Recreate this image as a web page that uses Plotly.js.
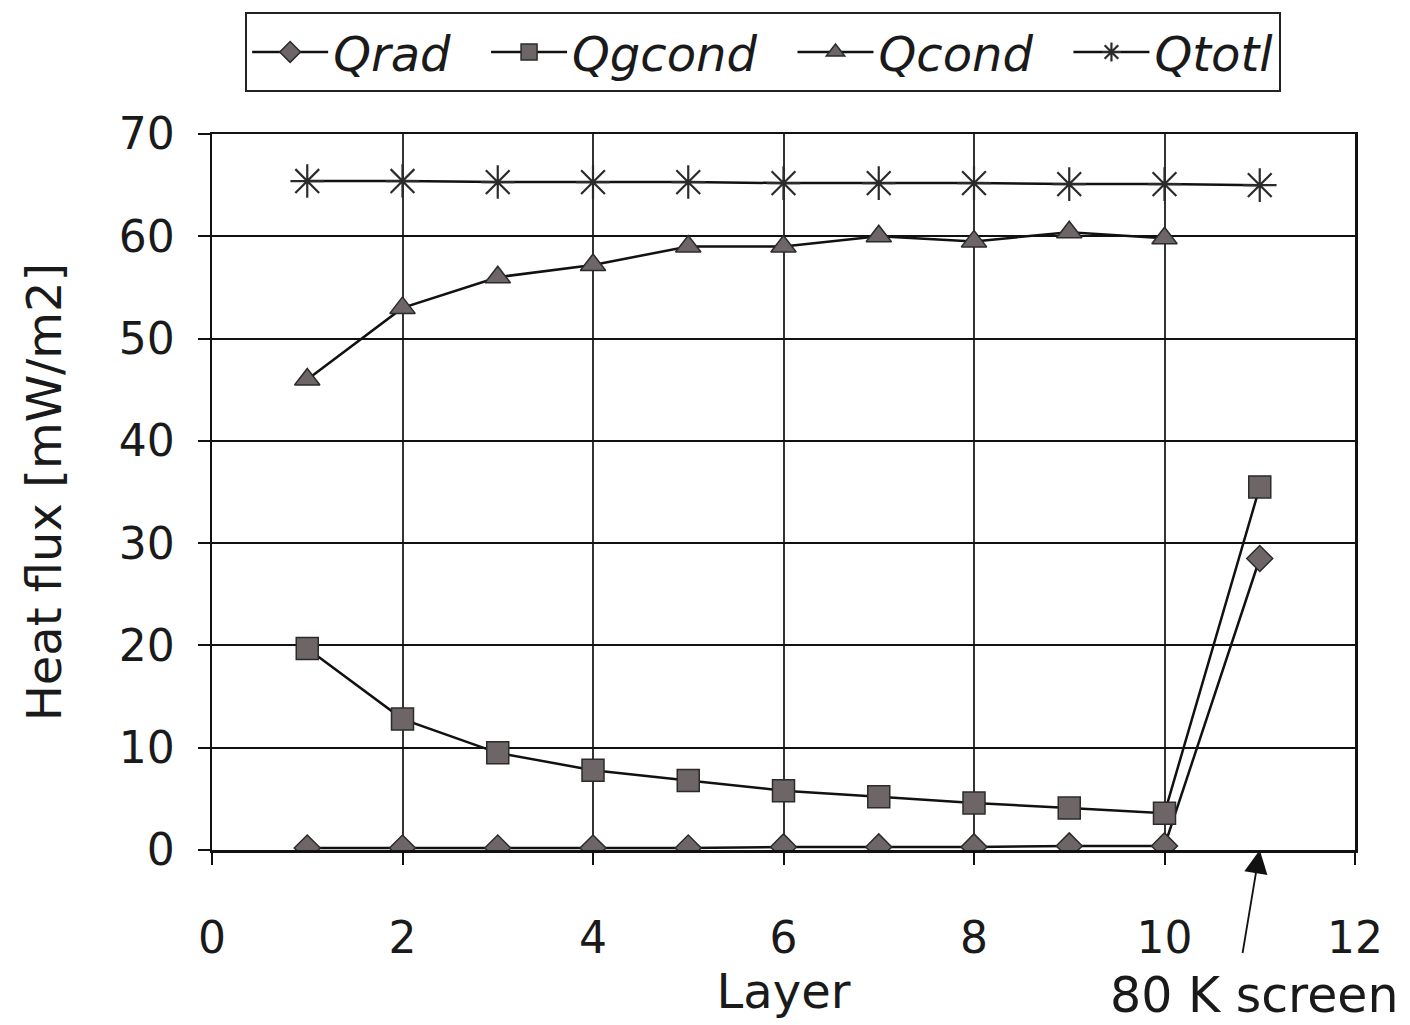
<!DOCTYPE html>
<html>
<head>
<meta charset="utf-8">
<script src="https://cdn.plot.ly/plotly-3.0.1.min.js"></script>
<style>html,body{margin:0;padding:0;background:#fff;}#chart{width:1410px;height:1025px;}</style>
</head>
<body>
<div id="chart"></div>
<script>
// Layer numbers (11 = 80 K screen)
const layers = [1, 2, 3, 4, 5, 6, 7, 8, 9, 10, 11];
const layersNoScreen = [1, 2, 3, 4, 5, 6, 7, 8, 9, 10];
// Heat flux values [mW/m2]
const qrad   = [0.2, 0.2, 0.2, 0.2, 0.2, 0.3, 0.3, 0.3, 0.4, 0.4, 28.5];
const qgcond = [19.7, 12.8, 9.5, 7.8, 6.8, 5.8, 5.2, 4.6, 4.1, 3.6, 35.5];
const qcond  = [46.0, 53.0, 56.0, 57.2, 59.0, 59.0, 60.0, 59.5, 60.4, 59.8];
const qtotl  = [65.4, 65.4, 65.3, 65.3, 65.3, 65.2, 65.2, 65.2, 65.1, 65.1, 65.0];
const seriesNames = ['Qrad', 'Qgcond', 'Qcond', 'Qtotl'];
const xTicks = [0, 2, 4, 6, 8, 10, 12];
const yTicks = [0, 10, 20, 30, 40, 50, 60, 70];

const fillC = '#6e6567';
const edgeC = '#2b2b2b';
const lineC = '#111';
const fontFam = '"DejaVu Sans", "Liberation Sans", Arial, sans-serif';
const pad = '\u00a0\u00a0';

const traces = [
  {x: layers, y: qrad, name: seriesNames[0] + pad, mode: 'lines+markers',
   line: {color: lineC, width: 2.5},
   marker: {symbol: 'diamond', size: 20, color: fillC, line: {color: edgeC, width: 1.5}}},
  {x: layers, y: qgcond, name: seriesNames[1] + pad, mode: 'lines+markers',
   line: {color: lineC, width: 2.5},
   marker: {symbol: 'square', size: 22, color: fillC, line: {color: edgeC, width: 1.5}}},
  {x: layersNoScreen, y: qcond, name: seriesNames[2] + pad, mode: 'lines+markers',
   line: {color: lineC, width: 2.5},
   marker: {symbol: 'triangle-up', size: 22, color: fillC, line: {color: edgeC, width: 1.5}}},
  {x: layers, y: qtotl, name: seriesNames[3], mode: 'lines+markers',
   line: {color: lineC, width: 2.5},
   marker: {symbol: 'asterisk-open', size: 28, color: edgeC, line: {color: edgeC, width: 2.2}}}
];

const layout = {
  width: 1410, height: 1025,
  paper_bgcolor: '#fff', plot_bgcolor: '#fff',
  margin: {l: 212, r: 55, t: 130, b: 175},
  font: {family: fontFam, color: '#1a1a1a', size: 44},
  showlegend: true,
  legend: {
    orientation: 'h', x: 0.029, xanchor: 'left', y: 1.17, yanchor: 'top',
    bordercolor: '#222', borderwidth: 2, bgcolor: '#fff',
    font: {family: fontFam, size: 48, style: 'italic', color: '#1a1a1a'},
    itemwidth: 76
  },
  xaxis: {
    range: [0, 12], tickvals: xTicks, ticktext: xTicks.map(String),
    showgrid: true, gridcolor: '#333', gridwidth: 2,
    showline: true, linecolor: '#111', linewidth: 2.5, mirror: true,
    ticks: 'outside', ticklen: 12, tickwidth: 2, tickcolor: '#111',
    ticklabelstandoff: 36, zeroline: false,
    tickfont: {size: 44},
    title: {text: 'Layer', font: {size: 48}, standoff: 4}
  },
  yaxis: {
    range: [0, 70], tickvals: yTicks, ticktext: yTicks.map(String),
    showgrid: true, gridcolor: '#111', gridwidth: 2,
    showline: true, linecolor: '#111', linewidth: 2.5, mirror: true,
    ticks: 'outside', ticklen: 12, tickwidth: 2, tickcolor: '#111',
    ticklabelstandoff: 14, zeroline: false,
    tickfont: {size: 44},
    title: {text: 'Heat flux [mW/m2]', font: {size: 48}, standoff: 42}
  },
  annotations: [
    {x: 11, y: 0, xref: 'x', yref: 'y',
     text: '\u00a0', showarrow: true,
     ax: -18, ay: 108, axref: 'pixel', ayref: 'pixel',
     arrowhead: 2, arrowsize: 2.6, arrowwidth: 1.8, arrowcolor: '#111',
     font: {family: fontFam, size: 6, color: '#1a1a1a'}},
    {x: 11, y: 0, xref: 'x', yref: 'y',
     text: '80 K screen', showarrow: false,
     xshift: -5, yshift: -145,
     font: {family: fontFam, size: 49, color: '#1a1a1a'}}
  ]
};

Plotly.newPlot('chart', traces, layout, {staticPlot: true, displayModeBar: false});
</script>
</body>
</html>
